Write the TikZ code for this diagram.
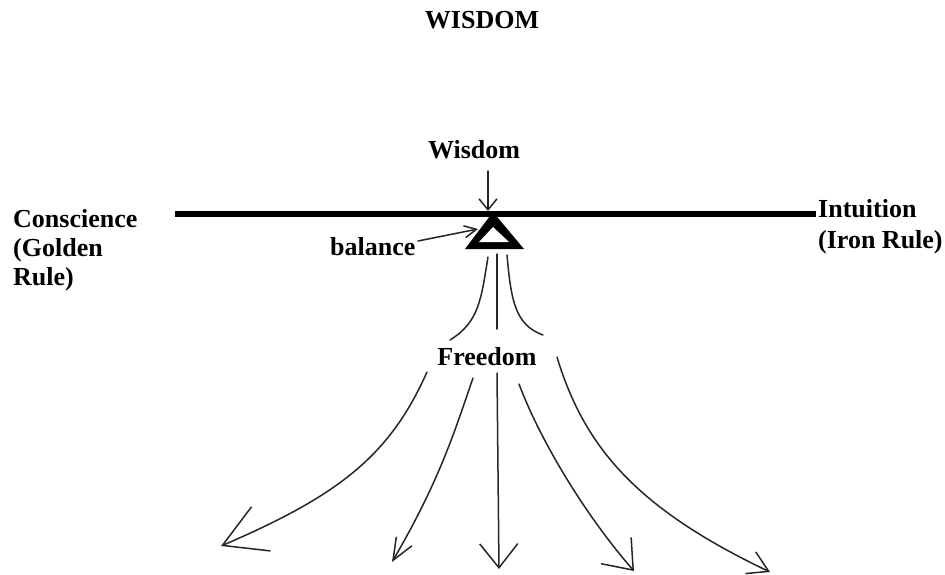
\documentclass[tikz,border=0pt]{standalone}
\usepackage{fontspec}
\setmainfont{Liberation Serif}
\usetikzlibrary{arrows.meta}
\begin{document}
\begin{tikzpicture}[x=1pt,y=-1pt,
  lab/.style={font=\fontsize{26}{29}\selectfont\bfseries, inner sep=0pt},
  thinline/.style={line width=1.5pt, draw=black!85, line cap=round},
  beam/.style={line width=6pt, draw=black},
  barb/.style args={#1/#2}{-{Straight Barb[length=#1pt,width=#2pt]}}
  ]
\useasboundingbox[fill=white] (0,0) rectangle (945,575);

% texts
\node[lab, anchor=base] (title) at (482,29) {WISDOM};
\node[lab, anchor=base] (wis) at (474,158) {Wisdom};
\node[lab, anchor=base west] (cons) at (13,227)
  {\begin{tabular}[t]{@{}l@{}}Conscience\\(Golden\\Rule)\end{tabular}};
\node[lab, anchor=base west, font=\fontsize{26}{31}\selectfont\bfseries] (intu) at (818,217)
  {\begin{tabular}[t]{@{}l@{}}Intuition\\(Iron Rule)\end{tabular}};
\node[lab, anchor=base west] (bal) at (330,255) {balance};
\node[lab, anchor=base] (free) at (487,365) {Freedom};

% beam
\coordinate (bl) at (175,214);
\coordinate (br) at (816,214);
\draw[beam] (bl) -- (br);

% fulcrum
\coordinate (fa) at (493,212);
\coordinate (fl) at (465,249);
\coordinate (fr) at (524,249);
\coordinate (ia) at (493,227);
\coordinate (il) at (479,242);
\coordinate (ir) at (509,242);
\fill[black] (fa) -- (fl) -- (fr) -- cycle;
\fill[white] (ia) -- (il) -- (ir) -- cycle;

% Wisdom arrow
\coordinate (ws) at (488,171);
\coordinate (wt) at (488,211);
\draw[thinline, barb=11/18] (ws) -- (wt);

% balance arrow
\coordinate (bs) at (418,241);
\coordinate (bt) at (478,229);
\draw[thinline, barb=12/12] (bs) -- (bt);

% lines under the fulcrum
\coordinate (l1s) at (488,257); \coordinate (l1e) at (450,340);
\coordinate (l2s) at (497,254); \coordinate (l2e) at (497,329);
\coordinate (l3s) at (507,255); \coordinate (l3e) at (543,335);
\draw[thinline] (l1s) .. controls (481,300) and (479,322) .. (l1e);
\draw[thinline] (l2s) -- (l2e);
\draw[thinline] (l3s) .. controls (511,300) and (515,325) .. (l3e);

% five arrows
\coordinate (a1s) at (427,372); \coordinate (a1e) at (221,546);
\coordinate (a2s) at (473,378); \coordinate (a2e) at (392,562);
\coordinate (a3s) at (497,373); \coordinate (a3e) at (499,569);
\coordinate (a4s) at (519,384); \coordinate (a4e) at (634,571);
\coordinate (a5s) at (557,357); \coordinate (a5e) at (770,572);
\draw[thinline, barb=42/48] (a1s) .. controls (390,455) and (340,495) .. (a1e);
\draw[thinline, barb=22/18] (a2s) .. controls (455,430) and (440,480) .. (a2e);
\draw[thinline, barb=24/38] (a3s) -- (a3e);
\draw[thinline, barb=26/40] (a4s) .. controls (540,440) and (585,515) .. (a4e);
\draw[thinline, barb=20/24] (a5s) .. controls (585,450) and (640,510) .. (a5e);
\end{tikzpicture}
\end{document}
